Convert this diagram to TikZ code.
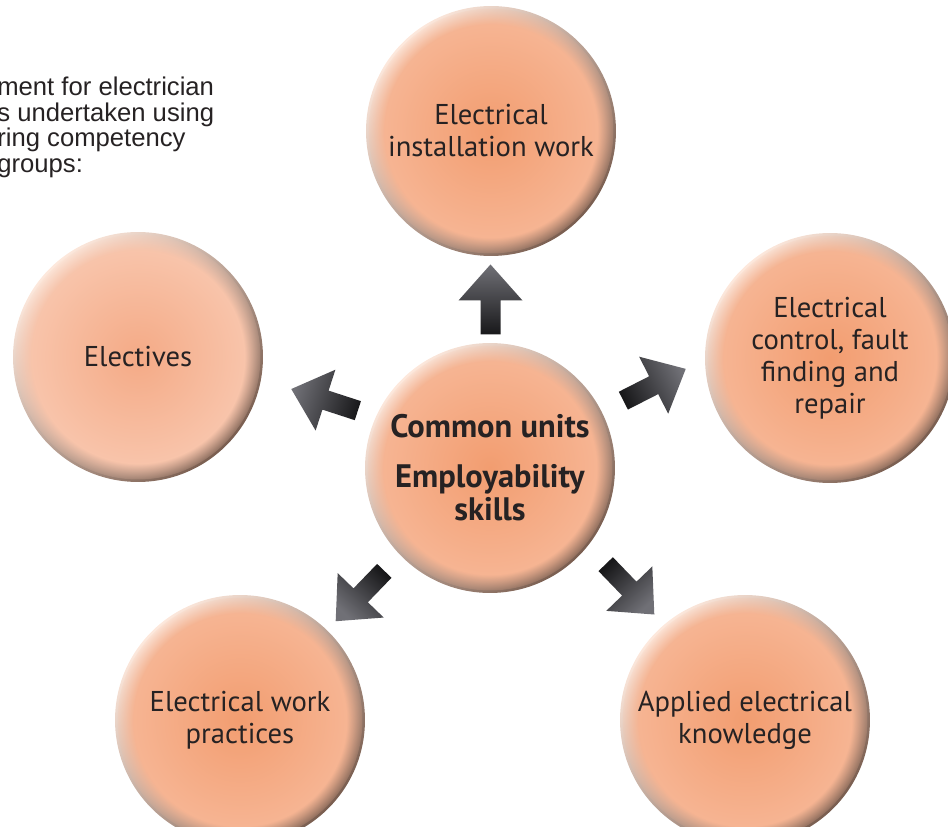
\documentclass[tikz,border=0pt]{standalone}
\usepackage{fontspec}
\setmainfont{PT Sans}
\newfontfamily\introfont{Liberation Sans}
\usetikzlibrary{calc,fadings}

\definecolor{peach}{RGB}{242,157,112}
\definecolor{peachrim}{RGB}{247,184,152}
\definecolor{pale}{RGB}{244,170,134}
\definecolor{palerim}{RGB}{249,200,176}
\definecolor{rimlight}{RGB}{253,232,220}
\definecolor{rimdark}{RGB}{122,94,80}
\definecolor{ink}{RGB}{38,34,35}
\definecolor{arrowdark}{RGB}{24,24,26}
\definecolor{arrowlight}{RGB}{112,112,118}

\tikzset{
  unit/.style={circle, minimum size=5cm, inner sep=0pt, align=center, text=ink,
    font=\fontsize{16.3}{18.2}\selectfont,
    top color=rimlight, middle color=#1rim, bottom color=rimdark, shading angle=45,
    path picture={\shade[inner color=#1, outer color=#1rim,
        path fading=circle with fuzzy edge 15 percent]
      (path picture bounding box.center) circle[radius=2.45cm];}},
  unit/.default=peach,
  intro/.style={anchor=north west, inner sep=0pt, align=left, text=ink,
    font=\introfont\fontsize{14.6}{14.5}\selectfont},
  blockarrow/.pic={
    \pgfmathsetmacro\shadeangle{#1-90}
    \shade[rotate=#1, top color=arrowlight, bottom color=arrowdark, shading angle=\shadeangle]
      (-35,-10) -- (-1,-10) -- (-1,-32) -- (35,0) -- (-1,32) -- (-1,10) -- (-35,10) -- cycle;}
}

\begin{document}
\begin{tikzpicture}[x=0.02cm, y=-0.02cm]
  \useasboundingbox (0,0) rectangle (948,827);

  \node[intro] (intro) at (-3,77) {ment for electrician\\s undertaken using\\ring competency\\groups:};

  % the six unit groups
  \node[unit] (install) at (491,131) {Electrical\\installation work};
  \node[unit=pale] (elect) at (138,357) {Electives};
  \node[unit] (control) at (830,358) {Electrical\\control, fault\\finding and\\repair};
  \node[unit, font=\fontsize{18.5}{18.8}\selectfont\bfseries] (core) at (490,468)
    {Common units\\[.34cm]Employability\\skills};
  \node[unit] (practice) at (240,720) {Electrical work\\practices};
  \node[unit] (applied) at (745,720) {Applied electrical\\knowledge};

  % arrows out of the core
  \pic at ($(core)!.5!(install)$) {blockarrow=90};
  \pic at ($(core)!.47!(elect)+(0,-16)$) {blockarrow=162};
  \pic at ($(core)!.484!(control)+(0,-30)$) {blockarrow=27};
  \pic at ($(core)!.52!(practice)+(0,-3)$) {blockarrow=-134};
  \pic at ($(core)!.549!(applied)+(0,-17)$) {blockarrow=-46};
\end{tikzpicture}
\end{document}
